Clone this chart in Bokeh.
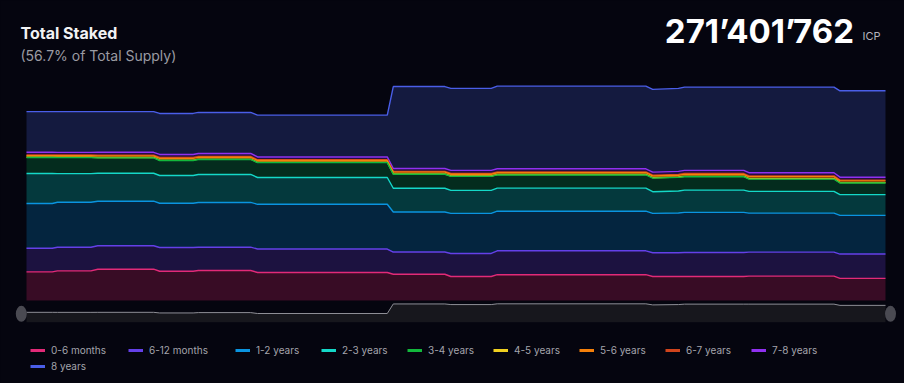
from bokeh.plotting import figure
from bokeh.models import ColumnDataSource, Range1d, Label, Legend, LegendItem
from bokeh.transform import stack
from bokeh.embed import file_html
from bokeh.resources import INLINE

# ---------------- data (millions of ICP) ----------------
days = [0, 30, 36, 75, 83, 148, 155, 194, 200, 261, 269, 420, 427, 487,
        494, 541, 548, 721, 729, 759, 766, 835, 841, 940, 947, 1000]

m0_6   = [37.1, 37.1, 38.4, 38.4, 40.5, 40.5, 37.9, 37.9, 38.8, 38.8, 36.2, 36.2, 34.0, 34.0,
          31.1, 31.1, 33.4, 33.4, 31.1, 31.1, 31.1, 31.1, 31.5, 31.5, 28.6, 28.6]
m6_12  = [30.5, 30.5, 30.5, 30.5, 30.3, 30.3, 30.7, 30.7, 30.2, 30.2, 30.4, 30.4, 28.7, 28.7,
          29.8, 29.8, 30.9, 30.9, 30.7, 30.7, 31.1, 31.1, 31.1, 31.1, 31.5, 31.5]
y1_2   = [57.9, 57.9, 58.2, 58.2, 57.7, 57.7, 57.3, 57.3, 57.9, 57.9, 57.9, 57.9, 51.8, 51.8,
          51.8, 51.8, 51.3, 51.3, 50.9, 51.5, 51.8, 51.8, 50.5, 50.5, 50.1, 50.1]
y2_3   = [38.8, 38.8, 37.1, 37.1, 36.2, 36.2, 35.9, 35.9, 36.2, 36.2, 34.7, 34.7, 30.8, 30.8,
          29.8, 29.8, 29.8, 29.8, 28.1, 28.5, 28.9, 28.9, 28.1, 28.1, 26.8, 26.8]
y3_4   = [20.7, 20.7, 20.7, 20.7, 19.9, 19.9, 19.4, 19.4, 19.4, 19.4, 19.2, 19.2, 18.1, 18.1,
          18.1, 18.1, 17.1, 17.1, 17.6, 17.5, 17.3, 17.3, 15.9, 15.9, 15.1, 15.1]
y4_5   = [0.5, 0.5, 0.5, 0.5, 0.5, 0.5, 0.5, 0.5, 0.5, 0.5, 0.5, 0.5, 0.5, 0.5,
          0.5, 0.5, 0.6, 0.6, 0.5, 0.5, 0.6, 0.6, 0.6, 0.6, 0.5, 0.5]
y5_6   = [1.9, 1.9, 1.9, 1.9, 2.1, 2.1, 2.3, 2.3, 2.3, 2.3, 2.2, 2.2, 2.2, 2.2,
          2.3, 2.3, 2.3, 2.3, 2.3, 2.3, 2.4, 2.4, 2.4, 2.4, 2.2, 2.2]
y6_7   = [1.0, 1.0, 1.0, 1.0, 1.0, 1.0, 1.1, 1.1, 1.1, 1.1, 1.0, 1.0, 1.0, 1.0,
          1.1, 1.1, 1.1, 1.1, 1.1, 1.1, 1.1, 1.1, 1.2, 1.2, 1.0, 1.0]
y7_8   = [3.4, 3.4, 3.4, 3.4, 3.6, 3.6, 3.9, 3.9, 3.9, 3.9, 3.7, 3.7, 3.7, 3.7,
          3.9, 3.9, 4.0, 4.0, 3.9, 3.9, 4.1, 4.1, 4.1, 4.1, 3.8, 3.8]
y8     = [52.7, 52.7, 52.7, 52.7, 52.7, 52.7, 53.1, 53.1, 53.1, 53.1, 54.1, 54.1, 106.1, 106.1,
          106.1, 106.1, 106.9, 106.9, 107.0, 107.4, 107.8, 107.8, 110.8, 110.8, 111.8, 111.8]

series_names = ["0-6 months", "6-12 months", "1-2 years", "2-3 years", "3-4 years",
                "4-5 years", "5-6 years", "6-7 years", "7-8 years", "8 years"]
series_keys = ["m0_6", "m6_12", "y1_2", "y2_3", "y3_4", "y4_5", "y5_6", "y6_7", "y7_8", "y8"]
series_vals = [m0_6, m6_12, y1_2, y2_3, y3_4, y4_5, y5_6, y6_7, y7_8, y8]

title_text = "Total Staked"
subtitle_text = "(56.7% of Total Supply)"
total_text = "271\u2019401\u2019762"
unit_text = "ICP"

# ---------------- styles / layout ----------------
BG = "#05050f"
line_colors = ["#e22a78", "#6440e8", "#0a94e0", "#14d8c8", "#12b83c",
               "#f0d020", "#f5800a", "#d0441c", "#9030f0", "#4a5ee8"]
fill_colors = ["#380c25", "#1c1240", "#04253f", "#04393d", "#042c1e",
               "#3a3208", "#3a1f08", "#311208", "#23103f", "#141a3f"]

W, H = 904, 383
PAGE_L, PAGE_T = 0, 0
X0_PAGE, X1_PAGE = 26, 885          # where the first / last day sit on the page
Y0_PAGE = 300                       # where zero sits on the page
PX_PER_DAY = (X1_PAGE - X0_PAGE) / (days[-1] - days[0])
M_PER_PX = 1.2942
MINI_ZERO_PAGE = 375
MINI_M_PER_PX = 3.87
MINI_BASE_PAGE = 321.7

data = {"x": days}
for k, v in zip(series_keys, series_vals):
    data[k] = v
data["total"] = [sum(vals) for vals in zip(*series_vals)]
src = ColumnDataSource(data)

x_range = Range1d(days[0] - (X0_PAGE - PAGE_L) / PX_PER_DAY,
                  days[-1] + (PAGE_L + W - X1_PAGE) / PX_PER_DAY)
y_range = Range1d(-(PAGE_T + H - Y0_PAGE) * M_PER_PX, (Y0_PAGE - PAGE_T) * M_PER_PX)

p = figure(width=W, height=H, x_range=x_range, y_range=y_range,
           output_backend="svg", toolbar_location=None, min_border=0,
           x_axis_location=None, y_axis_location=None,
           background_fill_color=BG, border_fill_color=BG, outline_line_color=None)
p.grid.visible = False
p.extra_y_ranges = {
    "mini": Range1d(-(PAGE_T + H - MINI_ZERO_PAGE) * MINI_M_PER_PX,
                    (MINI_ZERO_PAGE - PAGE_T) * MINI_M_PER_PX),
    "pxy": Range1d(PAGE_T + H, PAGE_T)}
p.extra_x_ranges = {"px": Range1d(PAGE_L, PAGE_L + W)}

# stacked areas
p.varea_stack(series_keys, x="x", source=src, color=fill_colors)
# top line of each stacked band, upper bands drawn first so lower lines sit on top
for i in reversed(range(len(series_keys))):
    p.line(x="x", y=stack(*series_keys[:i + 1]), source=src,
           line_color=line_colors[i], line_width=1.4)

# range-slider style overview
mini_base = (MINI_ZERO_PAGE - MINI_BASE_PAGE) * MINI_M_PER_PX
p.varea(x="x", y1=mini_base, y2="total", source=src, y_range_name="mini",
        fill_color="#17171d")
p.line(x="x", y="total", source=src, y_range_name="mini", line_color="#8e8e96", line_width=1)
p.ellipse(x=[20.8, 890.0], y=[313.3, 313.3], width=11, height=16,
          width_units="screen", height_units="screen",
          x_range_name="px", y_range_name="pxy",
          fill_color="#4a4a52", line_color=None)

# texts
FONT = "Inter"
p.add_layout(Label(x=20, y=32, x_range_name="px", y_range_name="pxy", text=title_text,
                   text_font=FONT, text_font_size="16px", text_font_style="bold",
                   text_color="#f2f2f4", text_baseline="alphabetic"))
p.add_layout(Label(x=20, y=54.5, x_range_name="px", y_range_name="pxy", text=subtitle_text,
                   text_font=FONT, text_font_size="14px",
                   text_color="#9b9ba3", text_baseline="alphabetic"))
p.add_layout(Label(x=853.5, y=30.5, x_range_name="px", y_range_name="pxy", text=total_text,
                   text_font=FONT, text_font_size="33px", text_font_style="bold",
                   text_color="#ffffff", text_align="right", text_baseline="alphabetic"))
p.add_layout(Label(x=862, y=35, x_range_name="px", y_range_name="pxy", text=unit_text,
                   text_font=FONT, text_font_size="11px",
                   text_color="#b4b4bc", text_baseline="alphabetic"))

# legend (one small legend per entry, placed like the reference)
legend_pos = [(30, 350), (128, 350), (235, 350), (321, 350), (407, 350),
              (493, 350), (579, 350), (665, 350), (751, 350), (30, 366)]
ROW_H = 14
nan = float("nan")
for name, col, (lx, ly) in zip(series_names, line_colors, legend_pos):
    r = p.line(x=[nan, nan], y=[nan, nan], line_color=col, line_width=3)
    lg = Legend(items=[LegendItem(label=name, renderers=[r])],
                location=(lx - PAGE_L, PAGE_T + H - (ly + ROW_H / 2)),
                orientation="horizontal", padding=0, margin=0, spacing=0,
                glyph_width=15, glyph_height=ROW_H, label_height=ROW_H,
                label_standoff=6, label_text_font=FONT, label_text_font_size="10px",
                label_text_color="#a4a4ac", background_fill_alpha=0,
                border_line_alpha=0)
    p.add_layout(lg, "center")

html = file_html(p, INLINE)
html = html.replace("</head>",
                    "<style>html, body { background-color: %s; }</style>\n</head>" % BG, 1)
open("out.html", "w").write(html)
